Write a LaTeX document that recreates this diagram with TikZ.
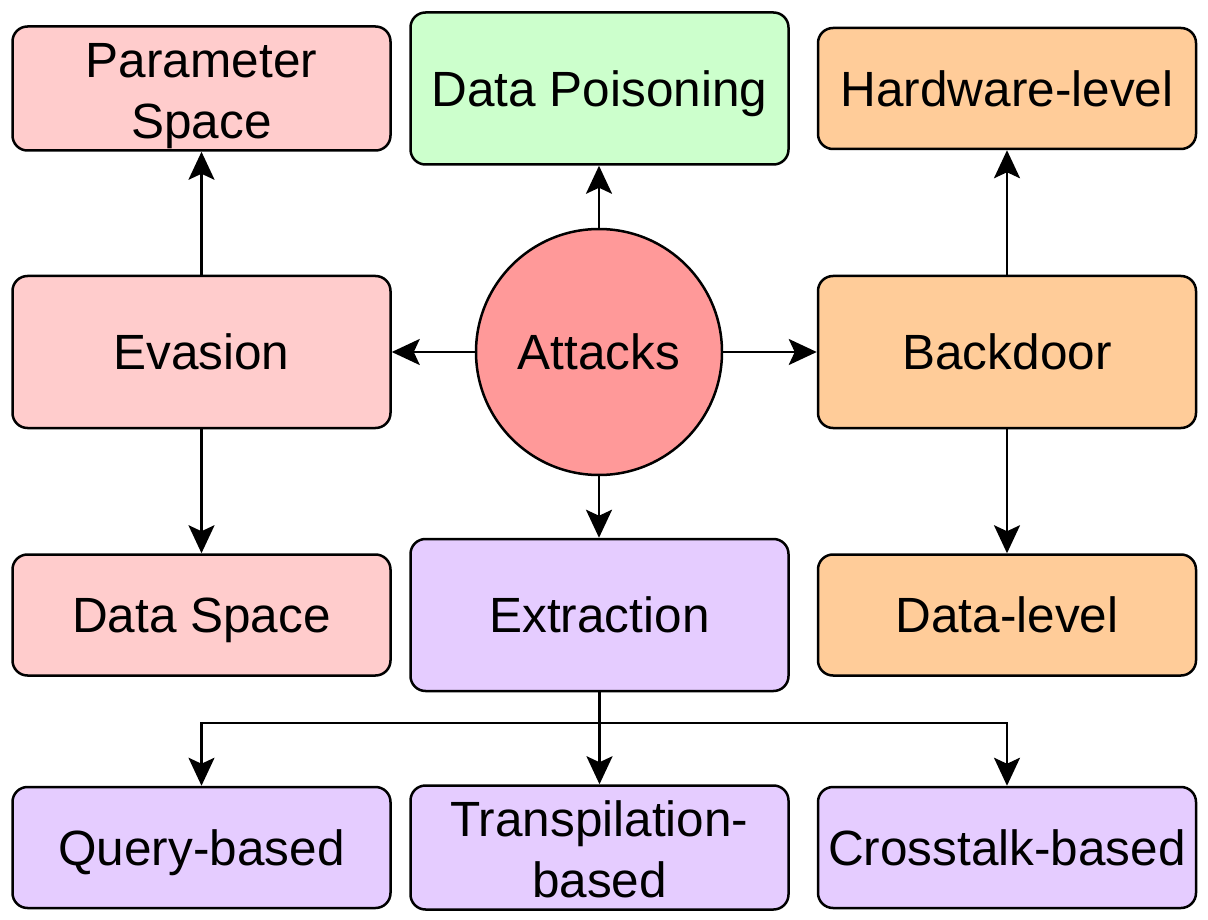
\documentclass[tikz,border=0pt]{standalone}
\usepackage{fontspec}
\setmainfont{Liberation Sans}
\usetikzlibrary{arrows.meta}
\definecolor{cpink}{HTML}{FFCCCC}
\definecolor{cgreen}{HTML}{CCFFCC}
\definecolor{corange}{HTML}{FFCC99}
\definecolor{cpurple}{HTML}{E5CCFF}
\definecolor{cred}{HTML}{FF9999}
\begin{document}
\begin{tikzpicture}[x=1pt,y=-1pt,
  box/.style={draw=black, line width=2.5pt, rounded corners=15pt, minimum width=378pt, align=center,
    font=\fontsize{49.5}{61}\selectfont, inner sep=0pt},
  one/.style={text height=47.5pt, text depth=12pt},
  two/.style={text height=112pt, text depth=12pt},
  sbox/.style={box, minimum height=121pt},
  tbox/.style={box, minimum height=152pt},
  arr/.style={draw=black, line width=2.5pt, -{Stealth[length=28pt, width=26pt, inset=6pt]}}
]
\useasboundingbox (0,0) rectangle (1208,920);
\node[sbox, two, fill=cpink] (ps) at (201.5,88.5) {Parameter\\Space};
\node[tbox, one, fill=cgreen] (dp) at (599.5,88.5) {Data Poisoning};
\node[sbox, one, fill=corange] (hw) at (1007,88.5) {Hardware-level};
\node[tbox, one, fill=cpink] (ev) at (201.5,352) {Evasion};
\node[circle, draw=black, line width=2.5pt, fill=cred, minimum size=246pt, inner sep=0pt,
  font=\fontsize{49.5}{61}\selectfont, one] (at) at (599,352) {Attacks};
\node[tbox, one, fill=corange] (bd) at (1007,352) {Backdoor};
\node[sbox, one, fill=cpink] (ds) at (201.5,615) {Data Space};
\node[tbox, one, fill=cpurple] (ex) at (599.5,615) {Extraction};
\node[sbox, one, fill=corange] (dl) at (1007,615) {Data-level};
\node[sbox, one, fill=cpurple] (qb) at (201.5,847.5) {Query-based};
\node[sbox, two, fill=cpurple] (tb) at (599.5,847.5) {Transpilation-\\based};
\node[sbox, one, fill=cpurple] (cb) at (1007,847.5) {Crosstalk-based};
\coordinate (j) at (599.5,723);
\draw[arr] (ev.north) -- (ps.south);
\draw[arr] (at.north) -- (at.north |- dp.south);
\draw[arr] (bd.north) -- (hw.south);
\draw[arr] (at.west) -- (ev.east);
\draw[arr] (at.east) -- (bd.west);
\draw[arr] (ev.south) -- (ds.north);
\draw[arr] (at.south) -- (at.south |- ex.north);
\draw[arr] (bd.south) -- (dl.north);
\draw[arr] (ex.south) -- (tb.north);
\draw[arr] (ex.south) -- (j) -| (qb.north);
\draw[arr] (ex.south) -- (j) -| (cb.north);
\end{tikzpicture}
\end{document}
